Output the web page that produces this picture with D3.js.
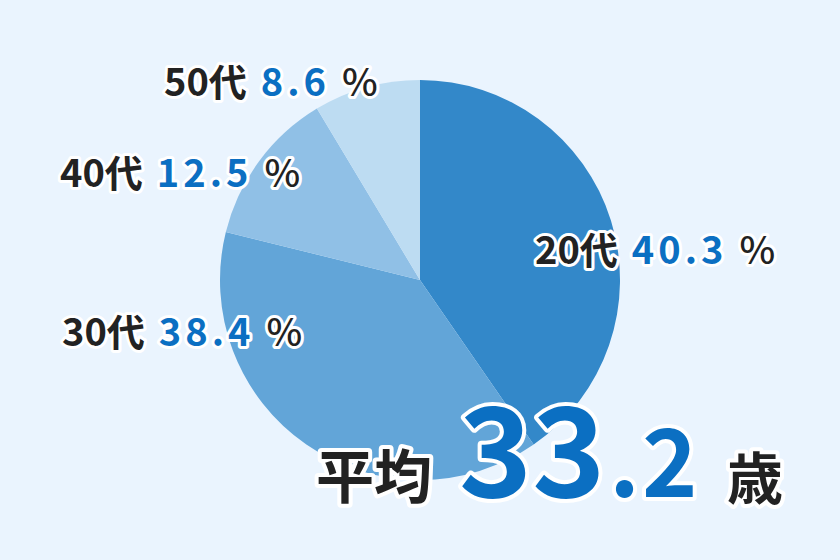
<!DOCTYPE html>
<html>
<head>
<meta charset="utf-8">
<script src="https://cdn.jsdelivr.net/npm/d3@7"></script>
<style>
  body { margin: 0; background: #eaf4fe; }
  text { font-family: "Noto Sans CJK JP", "Noto Sans", sans-serif; paint-order: stroke; stroke: #fff; stroke-linejoin: round; }
</style>
</head>
<body>
<div id="chart"></div>
<script>
// age groups and their share (%)
const ages = ["20代", "30代", "40代", "50代"];
const shares = [40.3, 38.4, 12.5, 8.6];
const colors = ["#3388c9", "#62a5d8", "#90c0e6", "#bddcf2"];
const averageInt = "33";
const averageDec = ".2";

const width = 840, height = 560;
const cx = 420, cy = 280, radius = 200;

const svg = d3.select("#chart")
    .append("svg")
    .attr("width", width)
    .attr("height", height)
    .style("display", "block");

svg.append("rect").attr("width", width).attr("height", height).attr("fill", "#eaf4fe");

const data = ages.map((a, i) => ({ age: a, value: shares[i], color: colors[i] }));

const pie = d3.pie().value(d => d.value).sort(null);
const arc = d3.arc().innerRadius(0).outerRadius(radius);

const g = svg.append("g").attr("transform", `translate(${cx},${cy})`);
g.selectAll("path")
    .data(pie(data))
    .join("path")
    .attr("d", arc)
    .attr("fill", d => d.data.color);

// label positions per slice
const labelPos = [[535, 264], [62, 346], [60, 187], [164, 96]];

const labels = svg.append("g");
data.forEach((d, i) => {
    const t = labels.append("text")
        .attr("x", labelPos[i][0])
        .attr("y", labelPos[i][1])
        .style("font-size", "38px")
        .style("font-weight", 700)
        .attr("stroke-width", 6);
    t.append("tspan").attr("fill", "#222").text(d.age);
    t.append("tspan").attr("fill", "#0b6fc2").attr("dx", 14).style("letter-spacing", "4px").text(d.value.toFixed(1));
    t.append("tspan").attr("fill", "#222").attr("dx", 12).style("font-weight", 500).text("%");
});

// average age
const avg = svg.append("g");
avg.append("text")
    .attr("x", 316).attr("y", 498)
    .attr("fill", "#222")
    .attr("stroke-width", 8)
    .style("font-size", "58px")
    .style("font-weight", 700)
    .text("平均");
const big = avg.append("text")
    .attr("x", 459).attr("y", 497)
    .attr("fill", "#0b6fc2")
    .attr("stroke-width", 8)
    .style("font-weight", 700);
big.append("tspan").style("font-size", "124px").style("letter-spacing", "0px").text(averageInt);
big.append("tspan").style("font-size", "94px").attr("dx", 4).style("letter-spacing", "2px").text(averageDec);
avg.append("text")
    .attr("x", 727).attr("y", 499)
    .attr("fill", "#222")
    .attr("stroke-width", 8)
    .style("font-size", "56px")
    .style("font-weight", 700)
    .text("歳");
</script>
</body>
</html>
